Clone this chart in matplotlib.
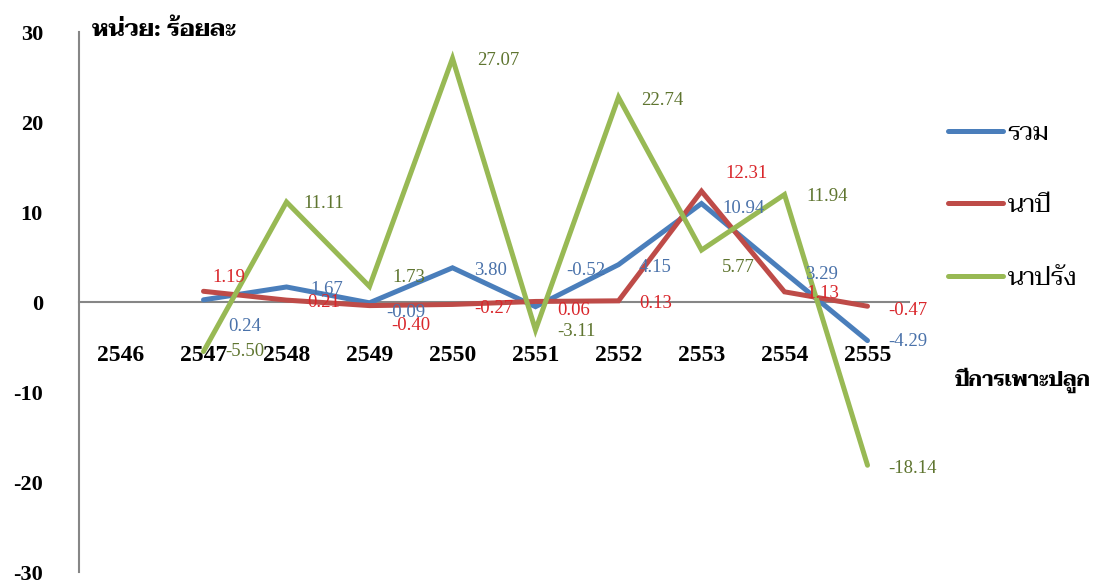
import matplotlib
matplotlib.use("Agg")
import matplotlib.pyplot as plt

# ปีการเพาะปลูก / อัตราการเปลี่ยนแปลง (ร้อยละ)
years = ["2546", "2547", "2548", "2549", "2550", "2551", "2552", "2553", "2554", "2555"]
series_names = ["รวม", "นาปี", "นาปรัง"]
total = [0.24, 1.67, -0.09, 3.80, -0.52, 4.15, 10.94, 3.29, -4.29]
main_crop = [1.19, 0.21, -0.40, -0.27, 0.06, 0.13, 12.31, 1.13, -0.47]
second_crop = [-5.50, 11.11, 1.73, 27.07, -3.11, 22.74, 5.77, 11.94, -18.14]
yticks = [-30, -20, -10, 0, 10, 20, 30]

line_colors = ["#4A7EBB", "#BE4B48", "#98B954"]
text_colors = ["#4A72AA", "#D9262B", "#5F7530"]
# label offsets in pixels (dx, dy) from each point
label_offsets = [
    [(41, -27), (40, -3), (36, -10), (38, -3), (50, 36), (37, -3), (42, -5), (37, -2), (40, -1)],
    [(25, 14), (37, -2), (41, -20), (41, -4), (38, -9), (37, -3), (45, 18), (38, -2), (40, -4)],
    [(41, 0), (37, -1), (39, 9), (46, -2), (41, -2), (44, -3), (37, -17), (43, -2), (45, -3)],
]

thai_font = ["Taviraj", "Liberation Serif"]
num_font = ["Liberation Serif"]

fig = plt.figure(figsize=(10.94, 5.86), dpi=100)
ax = fig.add_axes([79 / 1094, 14 / 586, 830 / 1094, 540 / 586])

ax.spines["top"].set_visible(False)
ax.spines["right"].set_visible(False)
ax.spines["bottom"].set_position(("data", 0))
for s in ["left", "bottom"]:
    ax.spines[s].set_color("#868686")
    ax.spines[s].set_linewidth(1.5)
ax.spines["bottom"].set_zorder(1)

x = list(range(len(years)))
all_series = [total, main_crop, second_crop]
for k, vals in enumerate(all_series):
    ax.plot(x[1:], vals, color=line_colors[k], lw=3.6, solid_joinstyle="miter",
            solid_capstyle="round", label=series_names[k], zorder=2 + k)

for k, vals in enumerate(all_series):
    for i, v in enumerate(vals):
        ax.annotate(f"{v:.2f}", (x[i + 1], v), xytext=label_offsets[k][i],
                    textcoords="offset pixels", ha="center", va="center",
                    color=text_colors[k], fontsize=13.5, family=num_font, zorder=10)

ax.set_xlim(-0.5, 9.5)
ax.set_ylim(-30, 30)
ax.set_xticks(x)
ax.set_xticklabels(years, family=num_font, fontsize=17, fontweight="bold")
ax.set_yticks(yticks)
ax.set_yticklabels([str(t) for t in yticks], family=num_font, fontsize=16, fontweight="bold")
ax.tick_params(axis="x", length=0, pad=31)
ax.tick_params(axis="y", length=0, pad=26)

fig.text(92 / 1094, 1 - 30 / 586, "หน่วย: ร้อยละ", family=thai_font, fontsize=17,
         fontweight="bold", ha="left", va="center")
fig.text(955 / 1094, 1 - 380 / 586, "ปีการเพาะปลูก", family=thai_font, fontsize=15,
         fontweight="bold", ha="left", va="center")

leg = fig.legend(loc="upper left", bbox_to_anchor=(925 / 1094, 1 - 99 / 586),
                 frameon=False, prop={"family": thai_font, "size": 18},
                 handlelength=2.2, handletextpad=0.2, labelspacing=1.95)
for h in leg.get_lines():
    h.set_linewidth(3.6)

fig.savefig("out.png", dpi=100)
